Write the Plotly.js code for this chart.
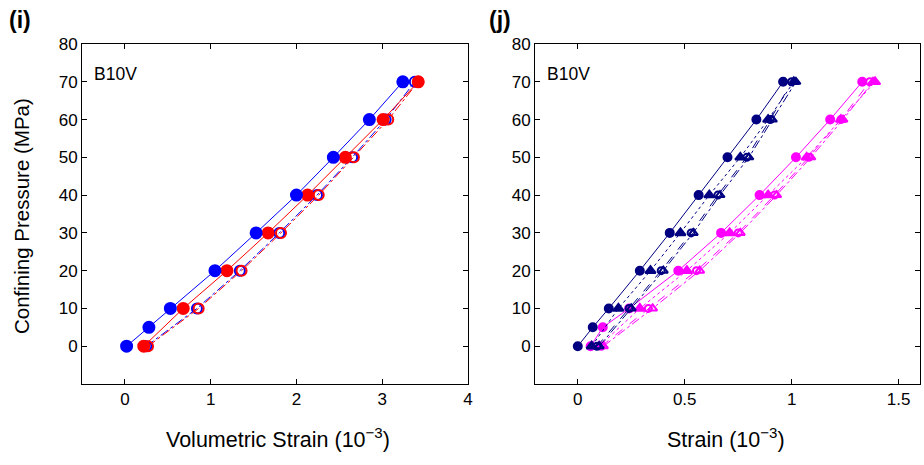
<!DOCTYPE html>
<html><head><meta charset="utf-8">
<script src="https://cdn.plot.ly/plotly-3.0.1.min.js"></script>
<style>body{margin:0;padding:0;background:#fff}#chart{width:924px;height:465px}</style>
</head><body><div id="chart"></div>
<script>
// ---- Left panel (i): volumetric strain (10^-3) vs confining pressure (MPa)
const pLeftBlue = [0, 5, 10, 20, 30, 40, 50, 60, 70];
const vBlueFilled = [0.02, 0.28, 0.53, 1.05, 1.53, 2.0, 2.43, 2.85, 3.24];
const pLeftRed = [0, 10, 20, 30, 40, 50, 60, 70];
const vRedFilled = [0.22, 0.68, 1.19, 1.67, 2.13, 2.57, 3.01, 3.42];
const pLeftOpen = [0, 10, 20, 30, 40, 50, 60, 70];
const vBlueOpen = [0.25, 0.84, 1.34, 1.80, 2.24, 2.65, 3.04, 3.38];
const vRedOpen = [0.27, 0.86, 1.36, 1.82, 2.26, 2.67, 3.07, 3.42];

// ---- Right panel (j): strain (10^-3) vs confining pressure (MPa)
const pRightCirc = [0, 5, 10, 20, 30, 40, 50, 60, 70];
const pRightOther = [0, 10, 20, 30, 40, 50, 60, 70];
const sNavyCirc = [0, 0.07, 0.145, 0.29, 0.43, 0.565, 0.70, 0.835, 0.96];
const sNavyTri = [0.065, 0.19, 0.34, 0.48, 0.615, 0.76, 0.89, 1.01];
const sNavyOpenCirc = [0.09, 0.24, 0.39, 0.53, 0.655, 0.79, 0.90, 1.0];
const sNavyOpenTri = [0.10, 0.25, 0.40, 0.54, 0.665, 0.80, 0.91, 1.02];
const sMagCirc = [0.06, 0.117, 0.24, 0.47, 0.67, 0.85, 1.02, 1.18, 1.33];
const sMagTri = [0.10, 0.29, 0.51, 0.71, 0.89, 1.07, 1.23, 1.39];
const sMagOpenCirc = [0.11, 0.33, 0.555, 0.75, 0.92, 1.08, 1.23, 1.365];
const sMagOpenTri = [0.12, 0.35, 0.57, 0.76, 0.93, 1.09, 1.24, 1.38];

const yTicks = [0, 10, 20, 30, 40, 50, 60, 70, 80];
const xTicksLeft = [0, 1, 2, 3, 4];
const xTicksRight = [0, 0.5, 1, 1.5];
const xTickTextRight = ['0', '0.5', '1', '1.5'];

const BLUE = '#0000ff', RED = '#ff0000', NAVY = '#000080', MAG = '#ff00ff';

function tr(x, y, color, dash, symbol, size, xa, ya, lw) {
  return {x: x, y: y, type: 'scatter', mode: 'lines+markers', xaxis: xa, yaxis: ya,
    line: {color: color, width: lw || 1, dash: dash},
    marker: {symbol: symbol, size: size, color: color, line: {color: color, width: 2}},
    showlegend: false, hoverinfo: 'skip'};
}

const data = [
  tr(vBlueOpen, pLeftOpen, BLUE, 'dashdot', 'circle-open', 10, 'x', 'y'),
  tr(vRedOpen, pLeftOpen, RED, 'dashdot', 'circle-open', 10, 'x', 'y'),
  tr(vRedFilled, pLeftRed, RED, 'solid', 'circle', 11, 'x', 'y'),
  tr(vBlueFilled, pLeftBlue, BLUE, 'solid', 'circle', 11, 'x', 'y'),

  tr(sMagOpenTri, pRightOther, MAG, 'dashdot', 'triangle-up-open', 8, 'x2', 'y2'),
  tr(sMagOpenCirc, pRightOther, MAG, 'dash', 'circle-open', 7, 'x2', 'y2'),
  tr(sMagTri, pRightOther, MAG, 'dot', 'triangle-up', 9, 'x2', 'y2'),
  tr(sMagCirc, pRightCirc, MAG, 'solid', 'circle', 8, 'x2', 'y2'),
  tr(sNavyOpenTri, pRightOther, NAVY, 'dashdot', 'triangle-up-open', 8, 'x2', 'y2'),
  tr(sNavyOpenCirc, pRightOther, NAVY, 'dash', 'circle-open', 7, 'x2', 'y2'),
  tr(sNavyTri, pRightOther, NAVY, 'dot', 'triangle-up', 9, 'x2', 'y2'),
  tr(sNavyCirc, pRightCirc, NAVY, 'solid', 'circle', 8, 'x2', 'y2')
];

const FONT = 'Liberation Sans, Arial, Helvetica, sans-serif';
const axBase = {showline: true, linecolor: '#000', linewidth: 1, mirror: 'ticks',
  ticks: 'inside', ticklen: 5, tickcolor: '#000', showgrid: false, zeroline: false,
  tickfont: {family: FONT, size: 17, color: '#000'}};

const yDom = [1 - 384 / 465, 1 - 44 / 465];
const layout = {
  width: 924, height: 465, margin: {l: 0, r: 0, t: 0, b: 0},
  paper_bgcolor: '#fff', plot_bgcolor: '#fff', font: {family: FONT, color: '#000'},
  xaxis: Object.assign({}, axBase, {domain: [82 / 924, 468 / 924], range: [-0.5, 4],
    tickmode: 'array', tickvals: xTicksLeft, anchor: 'y'}),
  yaxis: Object.assign({}, axBase, {domain: yDom, range: [-10, 80],
    tickmode: 'array', tickvals: yTicks, anchor: 'x'}),
  xaxis2: Object.assign({}, axBase, {domain: [535 / 924, 920 / 924], range: [-0.2, 1.6],
    tickmode: 'array', tickvals: xTicksRight, ticktext: xTickTextRight, anchor: 'y2'}),
  yaxis2: Object.assign({}, axBase, {domain: yDom, range: [-10, 80],
    tickmode: 'array', tickvals: yTicks, anchor: 'x2'}),
  annotations: [
    {text: '<b>(i)</b>', xref: 'paper', yref: 'paper', x: 7 / 924, y: 1 - 20 / 465,
      xanchor: 'left', yanchor: 'middle', showarrow: false, font: {size: 23, family: FONT}},
    {text: '<b>(j)</b>', xref: 'paper', yref: 'paper', x: 487 / 924, y: 1 - 20 / 465,
      xanchor: 'left', yanchor: 'middle', showarrow: false, font: {size: 23, family: FONT}},
    {text: 'B10V', xref: 'paper', yref: 'paper', x: 92 / 924, y: 1 - 74 / 465,
      xanchor: 'left', yanchor: 'middle', showarrow: false, font: {size: 17.5, family: FONT}},
    {text: 'B10V', xref: 'paper', yref: 'paper', x: 545 / 924, y: 1 - 74 / 465,
      xanchor: 'left', yanchor: 'middle', showarrow: false, font: {size: 17.5, family: FONT}},
    {text: 'Volumetric Strain (10<sup>−3</sup>)', xref: 'paper', yref: 'paper', x: 278 / 924, y: 1 - 438 / 465,
      xanchor: 'center', yanchor: 'middle', showarrow: false, font: {size: 21.5, family: FONT}},
    {text: 'Strain (10<sup>−3</sup>)', xref: 'paper', yref: 'paper', x: 726 / 924, y: 1 - 438 / 465,
      xanchor: 'center', yanchor: 'middle', showarrow: false, font: {size: 21.5, family: FONT}},
    {text: 'Confining Pressure (MPa)', xref: 'paper', yref: 'paper', x: 21 / 924, y: 1 - 216 / 465,
      xanchor: 'center', yanchor: 'middle', textangle: -90, showarrow: false, font: {size: 20.5, family: FONT}}
  ]
};

Plotly.newPlot('chart', data, layout, {displayModeBar: false, staticPlot: true});
</script></body></html>
